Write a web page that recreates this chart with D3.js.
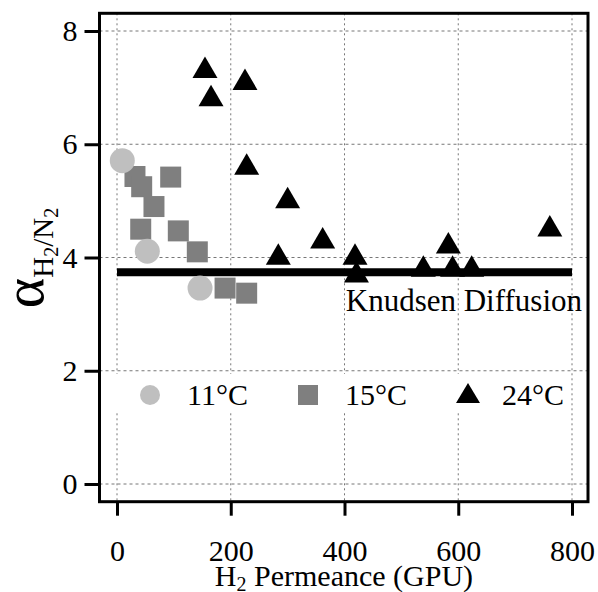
<!DOCTYPE html>
<html><head><meta charset="utf-8">
<script src="https://cdn.jsdelivr.net/npm/d3@7"></script>
<style>body{margin:0;background:#fff}</style>
</head><body>
<svg id="c" width="598" height="592"></svg>
<script>
const xTicks = [0, 200, 400, 600, 800];
const yTicks = [0, 2, 4, 6, 8];
const series = ["11°C", "15°C", "24°C"];
const colors = ["#bfbfbf", "#7f7f7f", "#000000"];
const data11 = [[9.3,5.71],[53.3,4.11],[146,3.46]];
const data15 = [[31.6,5.43],[43.4,5.25],[65,4.90],[94.4,5.42],[41.7,4.50],[107.8,4.47],[141.2,4.10],[190,3.46],[228,3.37]];
const data24 = [[154.7,7.36],[165.3,6.86],[225,7.15],[228,5.65],[300,5.06],[283.6,4.06],[361.6,4.35],[418.5,4.06],[421,3.75],[538.6,3.85],[582.6,4.26],[590,3.85],[623.6,3.85],[761,4.56]];
const knudsen = 3.74;
const knudsenRange = [0, 800];
const knudsenLabel = "Knudsen Diffusion";

const svg = d3.select("#c");
const x = d3.scaleLinear().domain([0, 800]).range([117, 572]);
const y = d3.scaleLinear().domain([0, 8]).range([484, 31]);
const F = "'Liberation Serif','Times New Roman',serif";
const frame = {l: 99.5, r: 588, t: 13.3, b: 501.7};

// grid
const g = svg.append("g");
g.selectAll("line.v").data(xTicks).join("line")
  .attr("x1", d => x(d)).attr("x2", d => x(d)).attr("y1", frame.t).attr("y2", frame.b)
  .attr("stroke", "#777").attr("stroke-width", 1).attr("stroke-dasharray", "2,3");
g.selectAll("line.h").data(yTicks).join("line")
  .attr("y1", d => y(d)).attr("y2", d => y(d)).attr("x1", frame.l).attr("x2", frame.r)
  .attr("stroke", "#777").attr("stroke-width", 1).attr("stroke-dasharray", "3,3");

// knudsen line
svg.append("line").attr("x1", x(knudsenRange[0])).attr("x2", x(knudsenRange[1]))
  .attr("y1", y(knudsen)).attr("y2", y(knudsen)).attr("stroke", "#000").attr("stroke-width", 8);

function tri(w, h) {
  return {draw(ctx) { ctx.moveTo(0, -h/2); ctx.lineTo(w/2, h/2); ctx.lineTo(-w/2, h/2); ctx.closePath(); }};
}
const sqr = s => ({draw(ctx){ ctx.rect(-s/2, -s/2, s, s); }});

const pts = svg.append("g");
pts.selectAll("path.s").data(data15).join("path").attr("class","s")
  .attr("transform", d => `translate(${x(d[0])},${y(d[1])})`)
  .attr("d", d3.symbol().type(sqr(21))()).attr("fill", colors[1]);
pts.selectAll("circle").data(data11).join("circle")
  .attr("cx", d => x(d[0])).attr("cy", d => y(d[1])).attr("r", 12.5).attr("fill", colors[0]);
pts.selectAll("path.t").data(data24).join("path").attr("class","t")
  .attr("transform", d => `translate(${x(d[0])},${y(d[1])})`)
  .attr("d", d3.symbol().type(tri(25, 21.5))()).attr("fill", colors[2]);

svg.append("text").attr("x", 582).attr("y", 311).attr("text-anchor", "end")
  .attr("font-family", F).attr("font-size", 31).text(knudsenLabel);

// legend
const lg = svg.append("g");
lg.append("rect").attr("x", 102).attr("y", 374).attr("width", 466).attr("height", 38).attr("fill", "#fff");
const legX = [150, 308, 468];
const txtX = [187, 345, 502];
lg.append("circle").attr("cx", legX[0]).attr("cy", 395).attr("r", 10).attr("fill", colors[0]);
lg.append("path").attr("transform", `translate(${legX[1]},395)`).attr("d", d3.symbol().type(sqr(20))()).attr("fill", colors[1]);
lg.append("path").attr("transform", `translate(${legX[2]},393)`).attr("d", d3.symbol().type(tri(24, 20))()).attr("fill", colors[2]);
series.forEach((s, i) => lg.append("text").attr("x", txtX[i]).attr("y", 405)
  .attr("font-family", F).attr("font-size", 30).text(s));

// frame
svg.append("rect").attr("x", frame.l).attr("y", frame.t).attr("width", frame.r - frame.l).attr("height", frame.b - frame.t)
  .attr("fill", "none").attr("stroke", "#000").attr("stroke-width", 3);

// axes
const xa = svg.append("g").attr("transform", `translate(0,${frame.b})`)
  .call(d3.axisBottom(x).tickValues(xTicks).tickSize(14).tickPadding(24).tickFormat(d3.format("d")));
const ya = svg.append("g").attr("transform", `translate(${frame.l},0)`)
  .call(d3.axisLeft(y).tickValues(yTicks).tickSize(15).tickPadding(7).tickFormat(d3.format("d")));
[xa, ya].forEach(a => {
  a.select(".domain").remove();
  a.selectAll(".tick line").attr("stroke", "#000").attr("stroke-width", 3);
  a.selectAll(".tick text").attr("font-family", F).attr("font-size", 30).attr("fill", "#000");
});

// x label
const xl = svg.append("text").attr("x", 344).attr("y", 586).attr("text-anchor", "middle")
  .attr("font-family", F).attr("font-size", 30);
xl.append("tspan").text("H");
xl.append("tspan").attr("font-size", 20).attr("dy", 5).text("2");
xl.append("tspan").attr("dy", -5).text(" Permeance (GPU)");

// y label
const yl = svg.append("text").attr("transform", "translate(43,258) rotate(-90)")
  .attr("text-anchor", "middle").attr("font-family", F).attr("font-size", 58);
yl.append("tspan").text("α");
yl.append("tspan").attr("font-size", 29).attr("dy", 10).text("H");
yl.append("tspan").attr("font-size", 20).attr("dy", 5).text("2");
yl.append("tspan").attr("font-size", 29).attr("dy", -5).text("/N");
yl.append("tspan").attr("font-size", 20).attr("dy", 5).text("2");
</script>
</body></html>
